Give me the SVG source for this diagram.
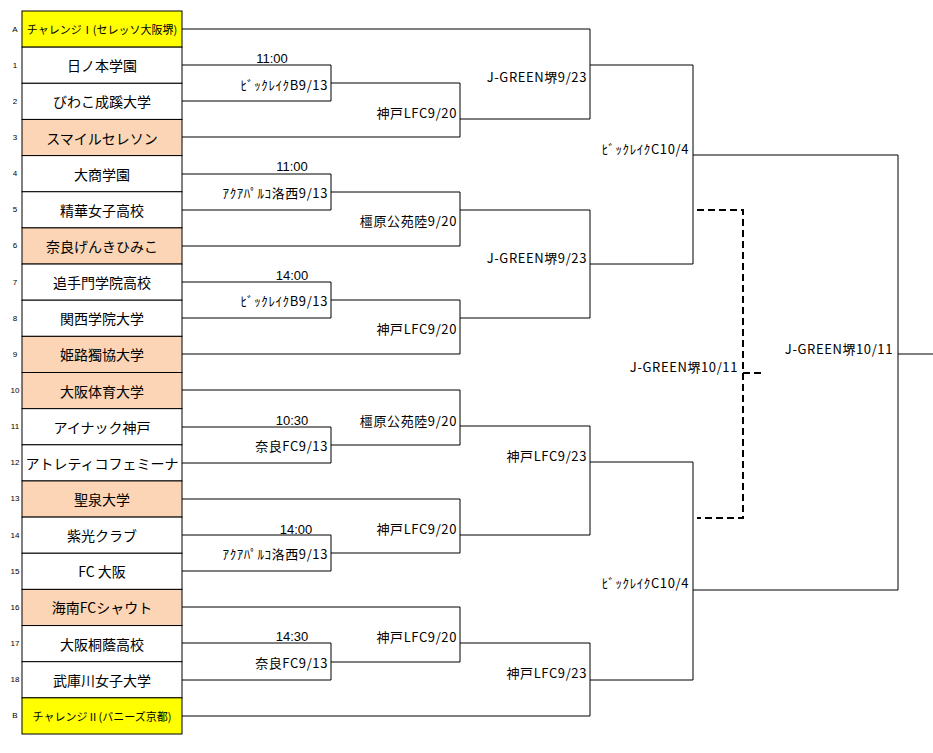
<svg xmlns="http://www.w3.org/2000/svg" width="933" height="753" viewBox="0 0 933 753">
<style>
.c{fill:#fff;stroke:#000;stroke-width:1}
.y{fill:#ffff00;stroke:#000;stroke-width:1}
.p{fill:#fbd5b5;stroke:#000;stroke-width:1}
.n{font-family:"Noto Sans CJK JP","Liberation Sans",sans-serif;font-size:14px;text-anchor:middle;dominant-baseline:central}
.s{font-family:"Noto Sans CJK JP","Liberation Sans",sans-serif;font-size:11px;text-anchor:middle;dominant-baseline:central}
.i{font-family:"Liberation Sans",sans-serif;font-size:8px;text-anchor:middle;dominant-baseline:central}
.l{font-family:"Noto Sans CJK JP","Liberation Sans",sans-serif;font-size:13px;letter-spacing:0.6px;text-anchor:end;dominant-baseline:central}
.t{font-family:"Liberation Sans",sans-serif;font-size:13px;text-anchor:middle;dominant-baseline:central}
.w{fill:none;stroke:#000;stroke-width:1}
.d{fill:none;stroke:#000;stroke-width:2;stroke-dasharray:7,4}
</style>
<g id="teams">
<g id="tA"><rect class="y" x="22" y="11" width="160" height="36.15"/><text class="s" x="102" y="29">チャレンジⅠ(セレッソ大阪堺)</text><text class="i" x="15" y="29">A</text></g>
<g id="t1"><rect class="c" x="22" y="47.15" width="160" height="36.15"/><text class="n" x="102" y="65.2">日ノ本学園</text><text class="i" x="15" y="65.2">1</text></g>
<g id="t2"><rect class="c" x="22" y="83.3" width="160" height="36.15"/><text class="n" x="102" y="101.4">びわこ成蹊大学</text><text class="i" x="15" y="101.4">2</text></g>
<g id="t3"><rect class="p" x="22" y="119.45" width="160" height="36.15"/><text class="n" x="102" y="137.5">スマイルセレソン</text><text class="i" x="15" y="137.5">3</text></g>
<g id="t4"><rect class="c" x="22" y="155.6" width="160" height="36.15"/><text class="n" x="102" y="173.7">大商学園</text><text class="i" x="15" y="173.7">4</text></g>
<g id="t5"><rect class="c" x="22" y="191.75" width="160" height="36.15"/><text class="n" x="102" y="209.8">精華女子高校</text><text class="i" x="15" y="209.8">5</text></g>
<g id="t6"><rect class="p" x="22" y="227.9" width="160" height="36.15"/><text class="n" x="102" y="245.9">奈良げんきひみこ</text><text class="i" x="15" y="245.9">6</text></g>
<g id="t7"><rect class="c" x="22" y="264.05" width="160" height="36.15"/><text class="n" x="102" y="282">追手門学院高校</text><text class="i" x="15" y="282">7</text></g>
<g id="t8"><rect class="c" x="22" y="300.2" width="160" height="36.15"/><text class="n" x="102" y="318.2">関西学院大学</text><text class="i" x="15" y="318.2">8</text></g>
<g id="t9"><rect class="p" x="22" y="336.35" width="160" height="36.15"/><text class="n" x="102" y="354.3">姫路獨協大学</text><text class="i" x="15" y="354.3">9</text></g>
<g id="t10"><rect class="p" x="22" y="372.5" width="160" height="36.15"/><text class="n" x="102" y="390.5">大阪体育大学</text><text class="i" x="15" y="390.5">10</text></g>
<g id="t11"><rect class="c" x="22" y="408.65" width="160" height="36.15"/><text class="n" x="102" y="426.6">アイナック神戸</text><text class="i" x="15" y="426.6">11</text></g>
<g id="t12"><rect class="c" x="22" y="444.8" width="160" height="36.15"/><text class="n" x="102" y="462.8">アトレティコフェミーナ</text><text class="i" x="15" y="462.8">12</text></g>
<g id="t13"><rect class="p" x="22" y="480.95" width="160" height="36.15"/><text class="n" x="102" y="498.9">聖泉大学</text><text class="i" x="15" y="498.9">13</text></g>
<g id="t14"><rect class="c" x="22" y="517.1" width="160" height="36.15"/><text class="n" x="102" y="535.1">紫光クラブ</text><text class="i" x="15" y="535.1">14</text></g>
<g id="t15"><rect class="c" x="22" y="553.25" width="160" height="36.15"/><text class="n" x="102" y="571.2">FC 大阪</text><text class="i" x="15" y="571.2">15</text></g>
<g id="t16"><rect class="p" x="22" y="589.4" width="160" height="36.15"/><text class="n" x="102" y="607.4">海南FCシャウト</text><text class="i" x="15" y="607.4">16</text></g>
<g id="t17"><rect class="c" x="22" y="625.55" width="160" height="36.15"/><text class="n" x="102" y="643.5">大阪桐蔭高校</text><text class="i" x="15" y="643.5">17</text></g>
<g id="t18"><rect class="c" x="22" y="661.7" width="160" height="36.15"/><text class="n" x="102" y="679.7">武庫川女子大学</text><text class="i" x="15" y="679.7">18</text></g>
<g id="tB"><rect class="y" x="22" y="697.85" width="160" height="36.15"/><text class="s" x="102" y="715.9">チャレンジⅡ(バニーズ京都)</text><text class="i" x="15" y="715.9">B</text></g>
</g>
<g id="connectors">
<path class="w" d="M182,65 H331 V101 H182 M331,83 H460 M182,137 H460 V83 M460,119 H590 M182,29 H590 V119 M590,65 H693"/>
<path class="w" d="M182,174 H331 V210 H182 M331,192 H460 M182,246 H460 V192 M460,210 H590"/>
<path class="w" d="M182,282 H331 V318 H182 M331,300 H460 M182,354 H460 V300 M460,318 H590 V210 M590,264 H693 V65 M693,155 H898"/>
<path class="w" d="M182,427 H331 V463 H182 M331,445 H460 M182,390 H460 V445 M460,426 H590"/>
<path class="w" d="M182,535 H331 V571 H182 M331,553 H460 M182,499 H460 V553 M460,535 H590 V426 M590,462 H693"/>
<path class="w" d="M182,643 H331 V680 H182 M331,662 H460 M182,607 H460 V662 M460,643 H590 M182,716 H590 V643 M590,680 H693 V462 M693,590 H898 V155 M898,354 H933"/>
<path class="d" d="M697,210 H743 V518 H697 M743,373 H762"/>
</g>
<g id="labels">
<text class="t" x="272" y="58">11:00</text>
<text class="t" x="292" y="166">11:00</text>
<text class="t" x="292" y="275">14:00</text>
<text class="t" x="292" y="420">10:30</text>
<text class="t" x="296" y="529">14:00</text>
<text class="t" x="292" y="636">14:30</text>
<text class="l" x="328" y="84">ﾋﾞｯｸﾚｲｸB9/13</text>
<text class="l" x="328" y="192">ｱｸｱﾊﾟﾙｺ洛西9/13</text>
<text class="l" x="328" y="300">ﾋﾞｯｸﾚｲｸB9/13</text>
<text class="l" x="328" y="445">奈良FC9/13</text>
<text class="l" x="328" y="553">ｱｸｱﾊﾟﾙｺ洛西9/13</text>
<text class="l" x="328" y="662">奈良FC9/13</text>
<text class="l" x="457" y="112">神戸LFC9/20</text>
<text class="l" x="457" y="220">橿原公苑陸9/20</text>
<text class="l" x="457" y="328">神戸LFC9/20</text>
<text class="l" x="457" y="420">橿原公苑陸9/20</text>
<text class="l" x="457" y="528">神戸LFC9/20</text>
<text class="l" x="457" y="636">神戸LFC9/20</text>
<text class="l" x="587" y="76">J-GREEN堺9/23</text>
<text class="l" x="587" y="257">J-GREEN堺9/23</text>
<text class="l" x="587" y="455">神戸LFC9/23</text>
<text class="l" x="587" y="672">神戸LFC9/23</text>
<text class="l" x="689" y="148">ﾋﾞｯｸﾚｲｸC10/4</text>
<text class="l" x="689" y="582">ﾋﾞｯｸﾚｲｸC10/4</text>
<text class="l" x="738" y="366">J-GREEN堺10/11</text>
<text class="l" x="893" y="348">J-GREEN堺10/11</text>
</g>
</svg>
